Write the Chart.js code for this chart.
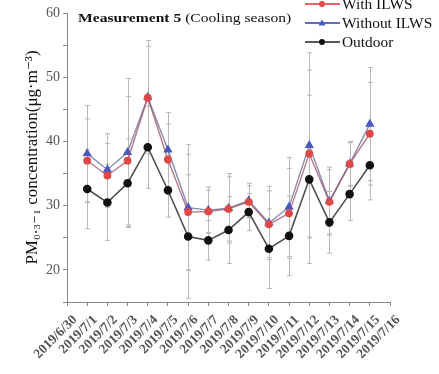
<!DOCTYPE html>
<html>
<head>
  <meta charset="UTF-8">
  <title>Measurement 5 (Cooling season)</title>
  <script src="https://cdn.jsdelivr.net/npm/chart.js"></script>
  <style>
    html, body { margin: 0; padding: 0; background: #fff; }
    #wrap { width: 439px; height: 374px; }
  </style>
</head>
<body>
  <div id="wrap"><canvas id="pmChart" width="439" height="374"></canvas></div>

  <script>
    // dates on the x axis (first and last have no data)
    const dates = ["2019/6/30", "2019/7/1", "2019/7/2", "2019/7/3", "2019/7/4", "2019/7/5",
      "2019/7/6", "2019/7/7", "2019/7/8", "2019/7/9", "2019/7/10", "2019/7/11",
      "2019/7/12", "2019/7/13", "2019/7/14", "2019/7/15", "2019/7/16"];

    // mean values
    const withILWS    = [null, 37.0, 34.7, 37.0, 46.8, 37.2, 29.0, 29.1, 29.5, 30.6, 27.1, 28.8, 38.1, 30.6, 36.5, 41.2, null];
    const withoutILWS = [null, 38.1, 35.6, 38.3, 46.9, 38.7, 29.7, 29.3, 29.6, 30.8, 27.3, 29.8, 39.4, 30.7, 36.5, 42.7, null];
    const outdoor     = [null, 32.6, 30.5, 33.5, 39.1, 32.4, 25.2, 24.6, 26.2, 29.0, 23.3, 25.3, 34.1, 27.4, 31.8, 36.3, null];

    // standard deviations (error bars)
    const withSD    = [null, 6.5, 5.0, 10.0, 8.0, 5.5, 9.0, 3.3, 5.0, 2.5, 5.2, 7.0, 13.0, 5.0, 3.3, 8.0, null];
    const withoutSD = [null, 7.5, 5.6, 11.5, 8.8, 5.8, 9.8, 3.6, 5.4, 2.7, 5.7, 7.7, 14.4, 5.3, 3.5, 8.8, null];
    const outdoorSD = [null, 6.2, 5.9, 6.9, 6.4, 4.2, 9.6, 3.1, 5.2, 2.9, 6.2, 6.2, 13.1, 4.8, 4.1, 5.4, null];

    const yTickValues = [20, 30, 40, 50, 60];
    const legendOrder = ['With ILWS', 'Without ILWS', 'Outdoor'];

    const serif = "'Liberation Serif', 'DejaVu Serif', serif";

    // error bars drawn behind the lines
    const errorBars = {
      id: 'errorBars',
      beforeDatasetsDraw(chart) {
        const ctx = chart.ctx;
        const x = chart.scales.x, y = chart.scales.y;
        ctx.save();
        ctx.strokeStyle = '#b8b8b8';
        ctx.lineWidth = 1;
        chart.data.datasets.forEach(ds => {
          ds.sd.forEach((e, i) => {
            const v = ds.data[i];
            if (v == null || e == null) return;
            const px = Math.round(x.getPixelForValue(i)) + 0.5;
            const top = y.getPixelForValue(v + e);
            const bot = y.getPixelForValue(v - e);
            ctx.beginPath();
            ctx.moveTo(px, top); ctx.lineTo(px, bot);
            ctx.moveTo(px - 2.5, top); ctx.lineTo(px + 2.5, top);
            ctx.moveTo(px - 2.5, bot); ctx.lineTo(px + 2.5, bot);
            ctx.stroke();
          });
        });
        ctx.restore();
      }
    };

    // text drawn a bit wider than tall, like the original figure
    function wideText(ctx, text, x, y, sx) {
      ctx.save();
      ctx.translate(x, y);
      ctx.scale(sx, 1);
      ctx.fillText(text, 0, 0);
      const w = ctx.measureText(text).width * sx;
      ctx.restore();
      return w;
    }

    // title inside the plot and legend at the top right
    const annotations = {
      id: 'annotations',
      afterDraw(chart) {
        const ctx = chart.ctx;
        const area = chart.chartArea;
        ctx.save();
        ctx.textBaseline = 'middle';
        ctx.fillStyle = '#111';
        ctx.font = "bold 13px " + serif;
        const w1 = wideText(ctx, "Measurement 5 ", area.left + 11, 19, 1.2);
        ctx.font = "13px " + serif;
        wideText(ctx, "(Cooling season)", area.left + 11 + w1, 19, 1.2);

        const rows = [4, 23, 42];
        legendOrder.forEach((name, k) => {
          const ds = chart.data.datasets.find(d => d.label === name);
          const yy = rows[k];
          ctx.strokeStyle = ds.legendColor;
          ctx.lineWidth = 1.5;
          ctx.beginPath();
          ctx.moveTo(305, yy); ctx.lineTo(340, yy);
          ctx.stroke();
          ctx.fillStyle = ds.pointBackgroundColor;
          ctx.beginPath();
          if (ds.pointStyle === 'triangle') {
            ctx.moveTo(322, yy - 3.5); ctx.lineTo(325.5, yy + 2.5); ctx.lineTo(318.5, yy + 2.5);
            ctx.closePath();
          } else {
            ctx.arc(322, yy, 3, 0, Math.PI * 2);
          }
          ctx.fill();
          ctx.fillStyle = '#111';
          ctx.font = "14px " + serif;
          wideText(ctx, ds.label, 342, yy + 1, 1.1);
        });
        ctx.restore();
      }
    };

    const ctx = document.getElementById('pmChart').getContext('2d');
    new Chart(ctx, {
      type: 'line',
      data: {
        labels: dates,
        datasets: [
          {
            label: 'Outdoor', data: outdoor, sd: outdoorSD,
            borderColor: 'rgba(50,50,50,0.85)', legendColor: '#222',
            pointBackgroundColor: '#111', pointBorderColor: '#111',
            pointStyle: 'circle', pointRadius: 3.5, borderWidth: 1.6
          },
          {
            label: 'With ILWS', data: withILWS, sd: withSD,
            borderColor: 'rgba(150,80,100,0.75)', legendColor: '#d33',
            pointBackgroundColor: '#e04848', pointBorderColor: '#e04848',
            pointStyle: 'circle', pointRadius: 3.2, borderWidth: 1.4
          },
          {
            label: 'Without ILWS', data: withoutILWS, sd: withoutSD,
            borderColor: 'rgba(100,100,150,0.75)', legendColor: '#33b',
            pointBackgroundColor: '#4858c0', pointBorderColor: '#4858c0',
            pointStyle: 'triangle', pointRadius: 4, borderWidth: 1.4
          }
        ]
      },
      options: {
        responsive: false,
        animation: false,
        layout: { padding: { left: 0, right: 49, top: 13, bottom: 0 } },
        plugins: { legend: { display: false }, tooltip: { enabled: false } },
        scales: {
          x: {
            offset: false,
            grid: { drawOnChartArea: false, drawTicks: true, tickLength: 4, color: '#888' },
            border: { color: '#888', width: 1 },
            ticks: {
              autoSkip: false, maxRotation: 45, minRotation: 45,
              labelOffset: 8,
              color: '#555', font: { family: serif, size: 13.5, weight: 'bold' }, padding: 6
            },
            afterFit(scale) { scale.height = 72; }
          },
          y: {
            min: 15, max: 60,
            grid: { drawOnChartArea: false, drawTicks: true, tickLength: 4, color: '#888' },
            border: { color: '#888', width: 1 },
            ticks: {
              stepSize: 5,
              color: '#555', font: { family: serif, size: 14 }, padding: 3,
              callback: v => yTickValues.includes(v) ? v : ''
            },
            title: {
              display: true,
              text: 'PM\u2080.\u2083\u208B\u2081 concentration(\u03BCg\u00B7m\u207B\u00B3)',
              color: '#111', font: { family: serif, size: 17 }, padding: { top: 22, bottom: 0 }
            },
            afterFit(scale) { scale.width = 67; }
          }
        }
      },
      plugins: [errorBars, annotations]
    });
  </script>
</body>
</html>
